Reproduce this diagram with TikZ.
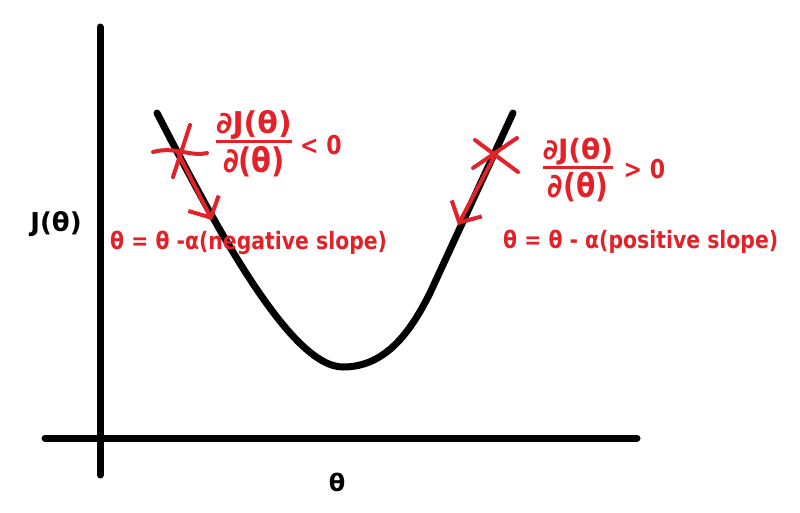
\documentclass[tikz,border=0pt]{standalone}
\usepackage{fontspec}
\setmainfont{DejaVu Sans}
\newfontfamily\condfont{DejaVu Sans}[UprightFont=* Bold, FakeStretch=0.85]
\usetikzlibrary{arrows.meta, positioning}
\definecolor{inkred}{RGB}{226,34,40}

\tikzset{
  axisline/.style = {line width=7pt, line cap=round},
  costcurve/.style = {line width=7pt, line cap=round, line join=round},
  pen/.style = {inkred, line width=4pt, line cap=round, line join=round},
  movearrow/.style = {pen, -{Straight Barb[length=16pt, width=34pt]}},
  fracbar/.style = {inkred, line width=3pt},
  redtxt/.style = {inkred, inner sep=0pt, font=\bfseries\fontsize{#1}{#1}\selectfont},
  condtxt/.style = {inkred, inner sep=0pt, font=\condfont\fontsize{#1}{#1}\selectfont},
  blacktxt/.style = {inner sep=0pt, font=\bfseries\fontsize{#1}{#1}\selectfont}
}

\begin{document}
\begin{tikzpicture}[x=1pt, y=-1pt]
    \useasboundingbox (0,0) rectangle (800,512);
    % axes
    \coordinate (ytop) at (100,27);
    \coordinate (ybot) at (100,475);
    \coordinate (xleft) at (45,438);
    \coordinate (xright) at (637,438);
    \draw[axisline] (ytop) -- (ybot);
    \draw[axisline] (xleft) -- (xright);
    \node[blacktxt=26] (jlabel) at (56,224) {J(θ)};
    \node[blacktxt=24] (thlabel) at (337,482) {θ};
    % cost curve
    \coordinate (cstart) at (157,113);
    \coordinate (cmin) at (343,367);
    \coordinate (cbend) at (430,293);
    \coordinate (cend) at (513,113);
    \draw[costcurve] (cstart) .. controls (215,225) and (290,367) .. (cmin)
        .. controls (385,367) and (410,333) .. (cbend) -- (cend);
    % left point, negative slope
    \coordinate (ptl) at (177,151);
    \coordinate (tipl) at (212,220);
    \draw[pen] (153,152) .. controls (175,146) and (190,157) .. (207,153);
    \draw[pen] (190,125) -- (173,177);
    \draw[movearrow] (ptl) -- (tipl);
    \node[redtxt=30] (numl) at (254,125) {∂J(θ)};
    \node[condtxt=34, below=6pt of numl] (denl) {∂(θ)};
    \draw[fracbar] ([yshift=-2pt]numl.south west) -- ([yshift=-2pt]numl.south east);
    \node[condtxt=26, right=8pt of numl.south east, yshift=-5pt] (sgnl) {< 0};
    \node[condtxt=24, anchor=west] (rulel) at (110,243) {θ = θ -α(negative slope)};
    % right point, positive slope
    \coordinate (ptr) at (495,155);
    \coordinate (tipr) at (458,225);
    \draw[pen] (475,140) -- (518,172);
    \draw[pen] (473,168) -- (517,138);
    \draw[movearrow] (ptr) -- (tipr);
    \node[redtxt=28] (numr) at (578,152) {∂J(θ)};
    \node[condtxt=33, below=6pt of numr] (denr) {∂(θ)};
    \draw[fracbar] ([yshift=-2pt]numr.south west) -- ([yshift=-2pt]numr.south east);
    \node[condtxt=26, right=10pt of numr.south east, yshift=-3pt] (sgnr) {> 0};
    \node[condtxt=24, anchor=west] (ruler) at (503,242) {θ = θ - α(positive slope)};
\end{tikzpicture}
\end{document}
